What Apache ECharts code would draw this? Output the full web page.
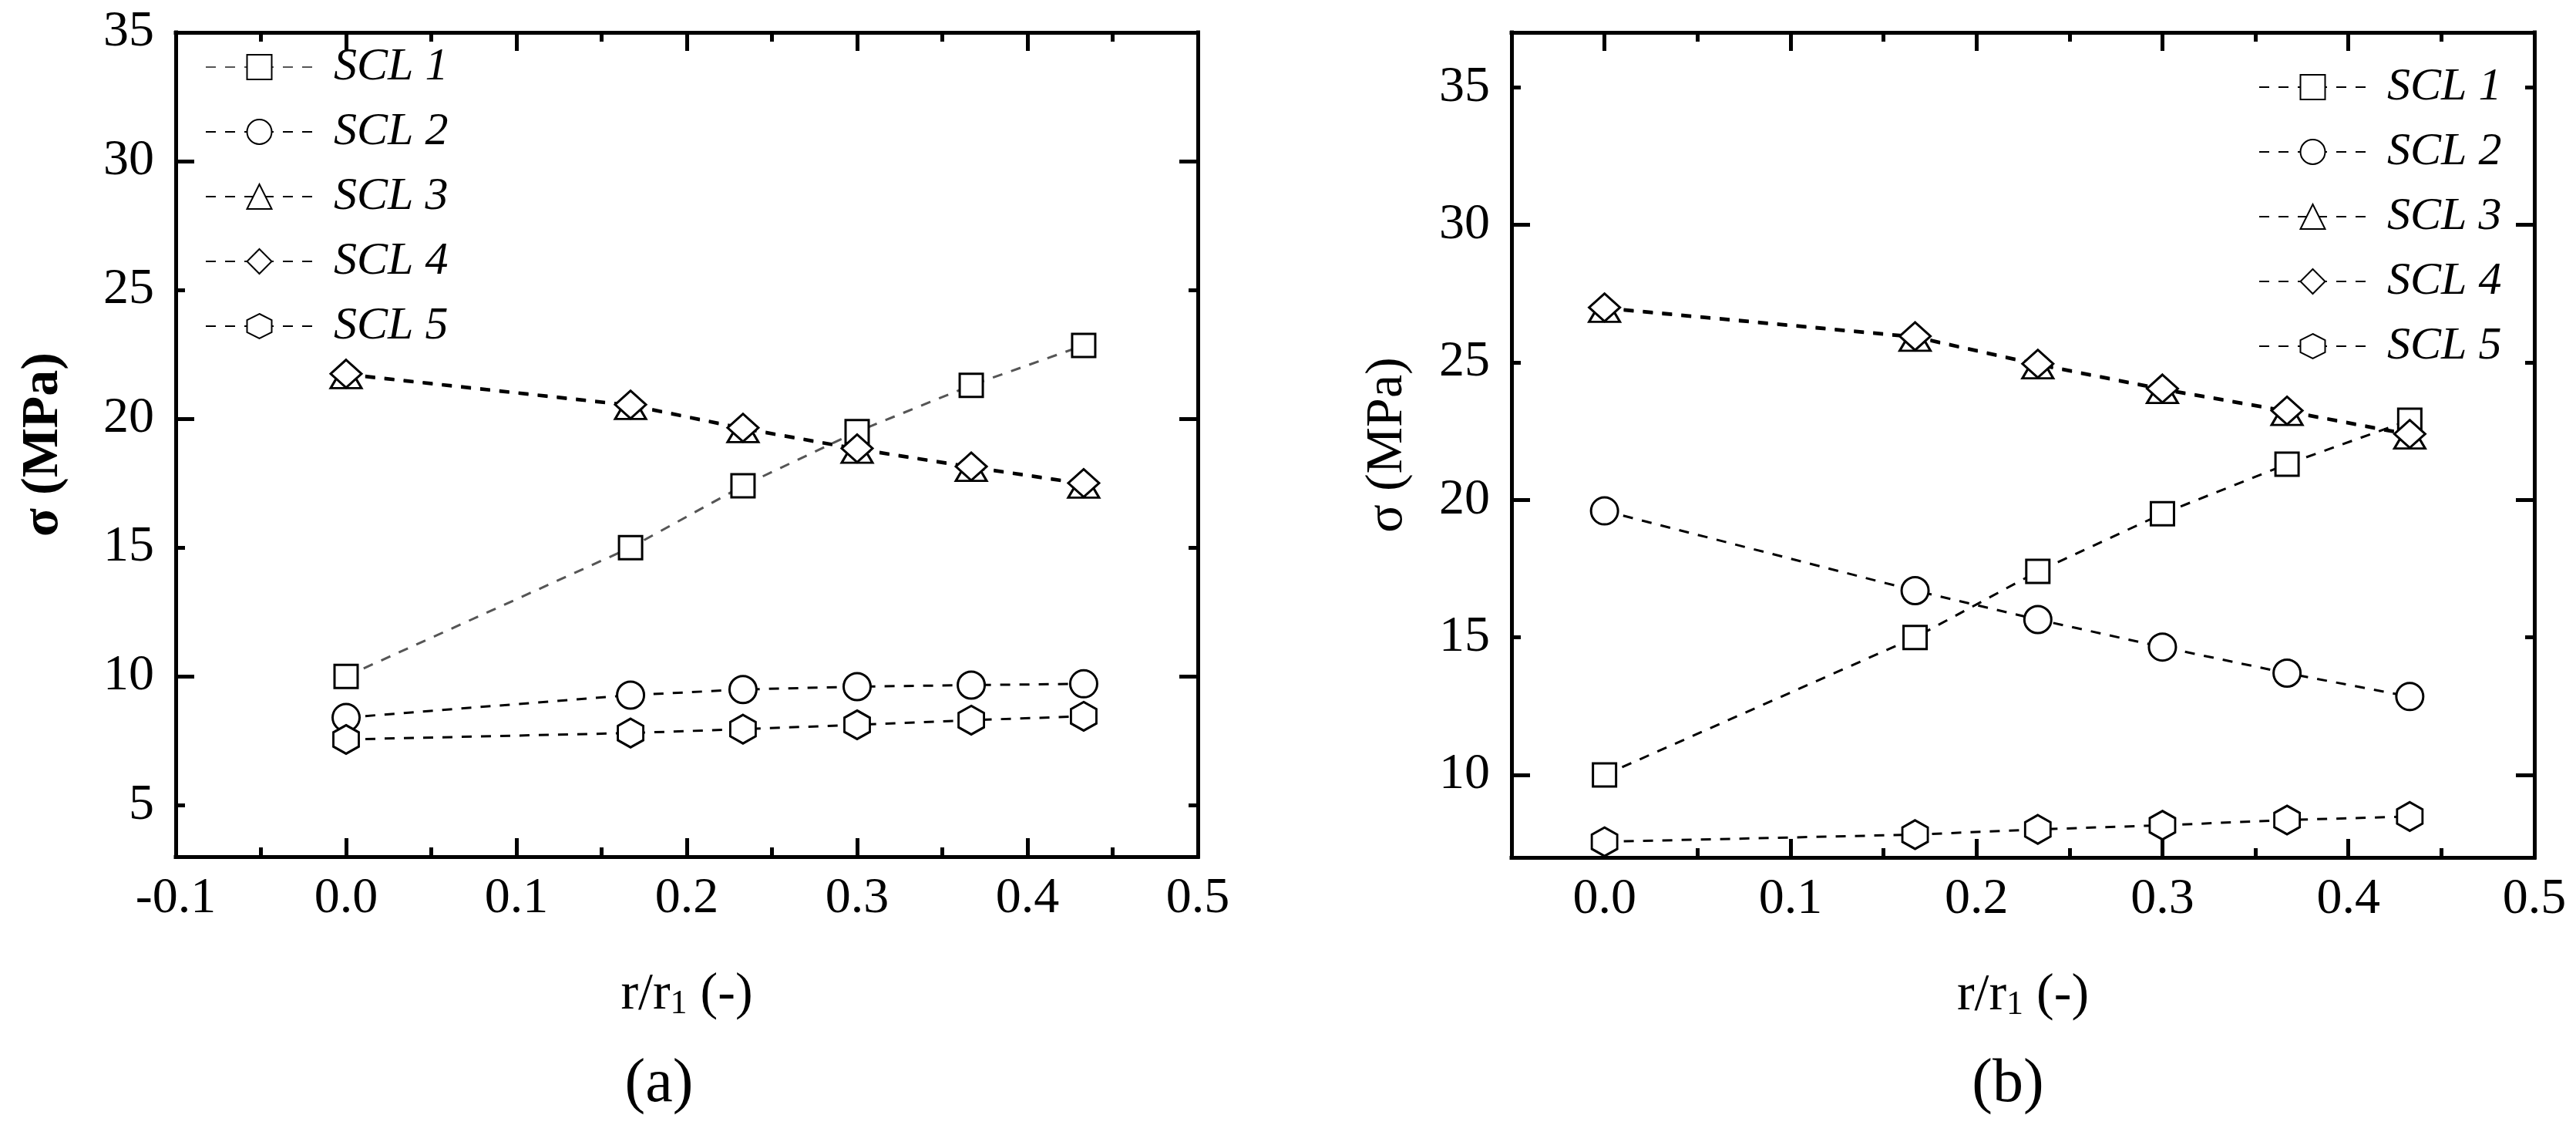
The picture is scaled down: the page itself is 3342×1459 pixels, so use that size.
<!DOCTYPE html>
<html>
<head>
<meta charset="utf-8">
<script src="https://cdn.jsdelivr.net/npm/echarts@6/dist/echarts.min.js"></script>
<style>
  html, body { margin: 0; padding: 0; background: #fff; }
  #chart { width: 3342px; height: 1459px; }
</style>
</head>
<body>
<div id="chart"></div>
<script>
const FONT = '"Liberation Serif", "Times New Roman", serif';

// r/r1 positions (same for both panels)
const rr = [0, 0.167, 0.233, 0.3, 0.367, 0.433];
const names = ['SCL 1', 'SCL 2', 'SCL 3', 'SCL 4', 'SCL 5'];

// panel (a)
const scl1A = [10.0, 15.0, 17.4, 19.5, 21.3, 22.85];
const scl2A = [8.4, 9.27, 9.49, 9.6, 9.66, 9.71];
const scl3A = [21.7, 20.5, 19.6, 18.8, 18.1, 17.45];
const scl4A = [21.75, 20.55, 19.65, 18.85, 18.15, 17.5];
const scl5A = [7.55, 7.8, 7.95, 8.12, 8.3, 8.45];

// panel (b)
const scl1B = [10.0, 15.0, 17.4, 19.5, 21.3, 22.9];
const scl2B = [19.6, 16.7, 15.65, 14.65, 13.7, 12.85];
const scl3B = [26.95, 25.9, 24.9, 24.0, 23.2, 22.35];
const scl4B = [27.0, 25.95, 24.95, 24.05, 23.25, 22.4];
const scl5B = [7.57, 7.83, 8.02, 8.17, 8.36, 8.49];

// axis ranges and ticks
const xRangeA = [-0.1, 0.5];
const yRangeA = [3, 35];
const xMajorA = [-0.1, 0, 0.1, 0.2, 0.3, 0.4, 0.5];
const xMinorA = [-0.05, 0.05, 0.15, 0.25, 0.35, 0.45];
const yLabelsA = [5, 10, 15, 20, 25, 30, 35];
const yLongA = [10, 20, 30];
const yShortA = [5, 15, 25, 35];

const xRangeB = [-0.05, 0.5];
const yRangeB = [7, 37];
const xMajorB = [0, 0.1, 0.2, 0.3, 0.4, 0.5];
const xMinorB = [0.05, 0.15, 0.25, 0.35, 0.45];
const yLabelsB = [10, 15, 20, 25, 30, 35];
const yLongB = [10, 20, 30];
const yShortB = [15, 25, 35];

const hexagon = 'path://M0,-1L0.866,-0.5L0.866,0.5L0,1L-0.866,0.5L-0.866,-0.5Z';
const symbols = ['rect', 'circle', 'triangle', 'diamond', hexagon];
const symbolSizes = [[30, 30], [35, 35], [40, 34], [40, 36], [33, 37]];

const chart = echarts.init(document.getElementById('chart'), null, { renderer: 'canvas' });

function pts(ys) {
  return rr.map((x, i) => [x, ys[i]]);
}

function tickAxis(grid, position, range, ticks, len, showLine) {
  return {
    type: 'value', gridIndex: grid, position: position,
    min: range[0], max: range[1],
    axisLine: { show: showLine, onZero: false, lineStyle: { color: '#000', width: 5, cap: 'square' } },
    axisTick: { show: true, inside: true, length: len, customValues: ticks, lineStyle: { color: '#000', width: 5 } },
    axisLabel: { show: false },
    splitLine: { show: false }
  };
}

function xAxes(grid, range, major, minor, nameGap) {
  const bottom = tickAxis(grid, 'bottom', range, major, 24, true);
  bottom.axisLabel = {
    show: true, customValues: major, margin: 22,
    fontFamily: FONT, fontSize: 66, color: '#000',
    formatter: v => v.toFixed(1)
  };
  bottom.name = 'r/r{s|1} (-)';
  bottom.nameLocation = 'middle';
  bottom.nameGap = nameGap;
  bottom.nameTextStyle = {
    fontFamily: FONT, fontSize: 68, color: '#000',
    rich: { s: { fontFamily: FONT, fontSize: 44, color: '#000', verticalAlign: 'bottom', lineHeight: 44, padding: [40, 0, 0, 0] } }
  };
  return [
    bottom,
    tickAxis(grid, 'bottom', range, minor, 12, false),
    tickAxis(grid, 'top', range, major, 24, true),
    tickAxis(grid, 'top', range, minor, 12, false)
  ];
}

function yAxes(grid, range, labels, long, short, nameGap, weight) {
  const left = tickAxis(grid, 'left', range, long, 24, true);
  left.axisLabel = {
    show: true, customValues: labels, margin: 28,
    fontFamily: FONT, fontSize: 66, color: '#000'
  };
  left.name = 'σ (MPa)';
  left.nameLocation = 'middle';
  left.nameRotate = 90;
  left.nameGap = nameGap;
  left.nameTextStyle = { fontFamily: FONT, fontSize: 68, color: '#000', fontWeight: weight };
  return [
    left,
    tickAxis(grid, 'left', range, short, 12, false),
    tickAxis(grid, 'right', range, long, 24, true),
    tickAxis(grid, 'right', range, short, 12, false)
  ];
}

function lineSeries(name, ys, k, axisIndex, lineColor) {
  return {
    name: name, type: 'line', xAxisIndex: axisIndex, yAxisIndex: axisIndex,
    data: pts(ys),
    symbol: symbols[k], symbolSize: symbolSizes[k], showAllSymbol: true,
    itemStyle: { color: '#fff', borderColor: '#000', borderWidth: 3 },
    lineStyle: { color: lineColor, width: 3, type: [13, 12] },
    emphasis: { disabled: true }
  };
}

function legend(left, top, data, fmt) {
  return {
    orient: 'vertical', left: left, top: top,
    itemWidth: 139, itemHeight: 40, itemGap: 24,
    data: data, formatter: fmt, selectedMode: false,
    textStyle: { fontFamily: FONT, fontStyle: 'italic', fontSize: 60, color: '#000', padding: [0, 0, 0, 22] }
  };
}

const seriesA = [scl1A, scl2A, scl3A, scl4A, scl5A].map((ys, k) =>
  lineSeries(names[k], ys, k, 0, k === 0 ? '#555' : '#000'));
const seriesB = [scl1B, scl2B, scl3B, scl4B, scl5B].map((ys, k) =>
  lineSeries(names[k] + ' (b)', ys, k, 4, '#000'));

const option = {
  backgroundColor: '#fff',
  animation: false,
  textStyle: { fontFamily: FONT, color: '#000' },
  grid: [
    { left: 228, top: 42, width: 1326, height: 1069 },
    { left: 1961, top: 42, width: 1327, height: 1070 }
  ],
  xAxis: xAxes(0, xRangeA, xMajorA, xMinorA, 145).concat(xAxes(1, xRangeB, xMajorB, xMinorB, 145)),
  yAxis: yAxes(0, yRangeA, yLabelsA, yLongA, yShortA, 138, 'bold').concat(yAxes(1, yRangeB, yLabelsB, yLongB, yShortB, 127, 'normal')),
  legend: [
    legend(261, 52, names, n => n),
    legend(2925, 78, names.map(n => n + ' (b)'), n => n.replace(' (b)', ''))
  ],
  graphic: [
    { type: 'text', x: 855, y: 1407, style: { text: '(a)', fontFamily: FONT, fontSize: 80, fill: '#000', align: 'center', verticalAlign: 'middle', textAlign: 'center', textVerticalAlign: 'middle' } },
    { type: 'text', x: 2605, y: 1407, style: { text: '(b)', fontFamily: FONT, fontSize: 80, fill: '#000', align: 'center', verticalAlign: 'middle', textAlign: 'center', textVerticalAlign: 'middle' } }
  ],
  series: seriesA.concat(seriesB)
};

chart.setOption(option);
</script>
</body>
</html>
